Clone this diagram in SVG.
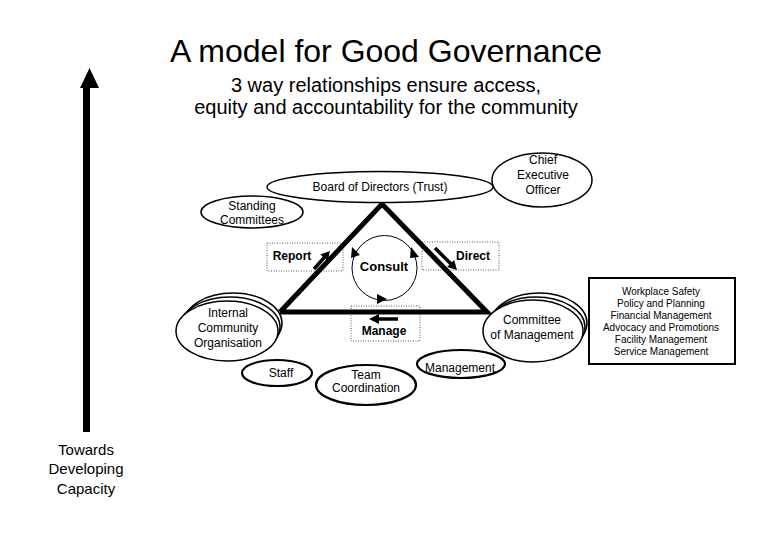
<svg xmlns="http://www.w3.org/2000/svg" width="780" height="540" viewBox="0 0 780 540">
<style>
text{font-family:"Liberation Sans",Arial,sans-serif;fill:#000;text-anchor:middle}
.t{font-size:12px}
.b{font-size:12px;font-weight:bold}
.l{font-size:10px}
.e{fill:#fff;stroke:#000;stroke-width:1.5}
.e2{fill:#fff;stroke:#000;stroke-width:2.2}
.dot{fill:none;stroke:#555;stroke-width:1;stroke-dasharray:1 1.5}
.tri{fill:none;stroke:#000;stroke-width:5;stroke-linejoin:miter}
.ar{stroke:#000;stroke-width:3.5;fill:none}
.hd{fill:#000}
</style>
<rect width="780" height="540" fill="#fff"/>
<g id="title">
<text x="386" y="62" style="font-size:32px">A model for Good Governance</text>
<text x="386" y="92" style="font-size:20px">3 way relationships ensure access,</text>
<text x="386" y="114" style="font-size:20px">equity and accountability for the community</text>
</g>
<g id="capacity">
<rect x="83" y="86" width="7" height="346" fill="#000"/>
<polygon points="80,88 99,88 89.5,68" fill="#000"/>
<text x="86" y="455" style="font-size:15px">Towards</text>
<text x="86" y="474" style="font-size:15px">Developing</text>
<text x="86" y="494" style="font-size:15px">Capacity</text>
</g>
<g id="labels">
<rect class="dot" x="267" y="243" width="76" height="28"/>
<rect class="dot" x="422" y="242" width="77" height="28"/>
<rect class="dot" x="351" y="306" width="69" height="35"/>
<text class="b" x="292" y="260">Report</text>
<text class="b" x="473" y="260">Direct</text>
<text class="b" x="384" y="335">Manage</text>
<text x="384" y="271" style="font-size:13px;font-weight:bold">Consult</text>
</g>
<g id="connectors">
<polyline class="tri" points="280,312 382,204 487,312 280,312"/>
<line class="ar" x1="314" y1="269" x2="325" y2="256.6"/>
<polygon class="hd" points="330,251 327.7,261 320.3,254.4"/>
<line class="ar" x1="435" y1="248" x2="451" y2="264"/>
<polygon class="hd" points="457,270 454.1,260.1 447.1,267.1"/>
<line class="ar" x1="398" y1="319" x2="379" y2="319"/>
<polygon class="hd" points="369,319 379,314 379,324"/>
<circle cx="384.5" cy="268" r="32.5" fill="none" stroke="#000" stroke-width="1"/>
<polygon points="352,247 351,258 360,255" fill="#000"/>
<polygon points="411,247 419,257 410,258" fill="#000"/>
<polygon points="377,294 387,299 377,304" fill="#000"/>
</g>
<g id="board">
<ellipse class="e" cx="380" cy="187" rx="113" ry="15.5"/>
<text class="t" x="380" y="191">Board of Directors (Trust)</text>
</g>
<g id="ceo">
<ellipse class="e" cx="542" cy="180" rx="50" ry="27"/>
<text class="t" x="543" y="164">Chief</text>
<text class="t" x="543" y="179">Executive</text>
<text class="t" x="543" y="194">Officer</text>
</g>
<g id="standing">
<ellipse class="e" cx="252" cy="212" rx="51" ry="16"/>
<text class="t" x="252" y="210">Standing</text>
<text class="t" x="252" y="224">Committees</text>
</g>
<g id="internal">
<ellipse class="e" cx="233" cy="323" rx="49" ry="30"/>
<ellipse class="e" cx="230" cy="327" rx="50" ry="30"/>
<ellipse class="e" cx="227" cy="331" rx="51" ry="30"/>
<text class="t" x="228" y="317">Internal</text>
<text class="t" x="228" y="332">Community</text>
<text class="t" x="228" y="347">Organisation</text>
</g>
<g id="committee">
<ellipse class="e" cx="539" cy="323" rx="48" ry="30"/>
<ellipse class="e" cx="536" cy="327" rx="49" ry="30"/>
<ellipse class="e" cx="533" cy="331" rx="50" ry="31"/>
<text class="t" x="532" y="324">Committee</text>
<text class="t" x="532" y="339">of Management</text>
</g>
<g id="staff">
<ellipse class="e2" cx="277" cy="373" rx="35" ry="13"/>
<text class="t" x="281" y="377">Staff</text>
</g>
<g id="team">
<ellipse class="e2" cx="366" cy="385" rx="50" ry="20"/>
<text class="t" x="366" y="379">Team</text>
<text class="t" x="366" y="392">Coordination</text>
</g>
<g id="management">
<ellipse class="e2" cx="461" cy="364" rx="44" ry="14"/>
<text class="t" x="460" y="372">Management</text>
</g>
<g id="functions">
<rect x="589" y="278" width="146" height="86" fill="#fff" stroke="#000" stroke-width="2"/>
<text class="l" x="661" y="295">Workplace Safety</text>
<text class="l" x="661" y="307">Policy and Planning</text>
<text class="l" x="661" y="319">Financial Management</text>
<text class="l" x="661" y="331">Advocacy and Promotions</text>
<text class="l" x="661" y="343">Facility Management</text>
<text class="l" x="661" y="355">Service Management</text>
</g>
</svg>
